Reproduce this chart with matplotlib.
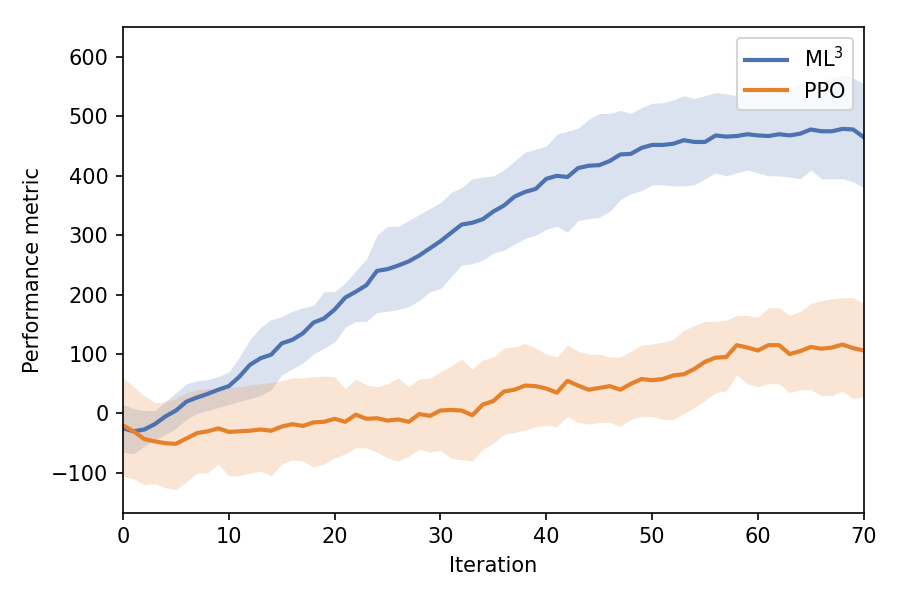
import matplotlib
matplotlib.use("Agg")
import matplotlib.pyplot as plt
import numpy as np

iterations = list(range(71))

ml3_mean = [-25, -30, -27, -18, -5, 5, 20, 27, 33, 40, 46, 62, 82, 93, 99, 118, 124, 135, 153, 160,
            175, 195, 205, 216, 240, 243, 249, 256, 266, 278, 290, 304, 318, 321, 327, 340, 350, 365, 373, 378,
            395, 400, 398, 413, 417, 418, 425, 436, 437, 447, 452, 452, 454, 460, 457, 457, 468, 466, 467, 470,
            468, 467, 470, 468, 471, 478, 475, 475, 479, 478, 465]
ml3_upper = [15, 8, 5, 5, 20, 35, 50, 55, 57, 62, 70, 95, 125, 145, 158, 163, 172, 178, 182, 205,
             205, 220, 240, 260, 300, 315, 315, 325, 335, 345, 355, 372, 380, 395, 398, 400, 410, 425, 440, 445,
             450, 470, 475, 480, 495, 505, 505, 510, 505, 515, 522, 523, 528, 535, 530, 535, 540, 538, 535, 538,
             545, 540, 540, 545, 555, 555, 560, 565, 570, 565, 555]
ml3_lower = [-65, -68, -55, -45, -35, -25, -10, 0, 5, 10, 15, 20, 25, 30, 40, 65, 75, 85, 100, 110,
             120, 145, 155, 155, 170, 172, 175, 180, 190, 205, 210, 230, 250, 252, 258, 270, 275, 285, 295, 300,
             310, 315, 305, 325, 328, 330, 340, 360, 370, 375, 385, 385, 383, 383, 385, 395, 405, 400, 405, 410,
             405, 400, 400, 398, 395, 410, 395, 395, 395, 390, 380]

ppo_mean = [-20, -30, -43, -47, -50, -51, -42, -33, -30, -25, -31, -30, -29, -27, -29, -22, -18, -21, -15, -14,
            -9, -14, -2, -9, -8, -12, -10, -14, -1, -4, 5, 6, 5, -3, 15, 21, 37, 40, 47, 46,
            42, 35, 55, 47, 40, 43, 46, 40, 50, 58, 56, 58, 64, 66, 75, 87, 94, 95, 115, 111,
            106, 115, 115, 100, 105, 112, 109, 111, 116, 110, 106]
ppo_upper = [60, 45, 30, 18, 20, 25, 35, 40, 42, 43, 45, 45, 48, 50, 52, 55, 60, 60, 62, 63,
             62, 42, 58, 48, 45, 50, 60, 45, 58, 60, 70, 80, 92, 75, 90, 95, 110, 112, 118, 110,
             100, 95, 115, 105, 100, 100, 95, 95, 105, 115, 117, 120, 125, 140, 148, 155, 155, 157, 165, 165,
             162, 178, 178, 165, 172, 185, 190, 193, 195, 195, 185]
ppo_lower = [-105, -110, -120, -118, -125, -128, -115, -100, -100, -85, -105, -105, -100, -97, -105, -85, -78, -80, -90, -85,
             -75, -68, -58, -58, -65, -75, -80, -72, -60, -65, -62, -75, -78, -80, -60, -50, -35, -32, -28, -22,
             -20, -22, -5, -15, -18, -15, -15, -22, -10, -5, -5, -10, -10, 0, 10, 22, 35, 38, 65, 50,
             45, 50, 50, 35, 40, 40, 30, 30, 38, 25, 28]

blue = "#4C72B0"
orange = "#E6812A"

fig = plt.figure(figsize=(6, 4), dpi=150)
ax = fig.add_axes([0.1367, 0.1455, 0.823, 0.809])

ax.fill_between(iterations, ml3_lower, ml3_upper, color=blue, alpha=0.2, linewidth=0)
ax.fill_between(iterations, ppo_lower, ppo_upper, color=orange, alpha=0.2, linewidth=0)
ax.plot(iterations, ml3_mean, color=blue, lw=2.0, label="ML$^3$")
ax.plot(iterations, ppo_mean, color=orange, lw=2.0, label="PPO")

ax.set_xlim(0, 70)
ax.set_ylim(-167, 650)
ax.set_yticks([-100, 0, 100, 200, 300, 400, 500, 600])
ax.set_xticks([0, 10, 20, 30, 40, 50, 60, 70])
ax.tick_params(labelsize=10)
ax.set_xlabel("Iteration", fontsize=10)
ax.set_ylabel("Performance metric", fontsize=10)
ax.legend(loc="upper right", fontsize=10)

fig.savefig("out.png", dpi=150)
